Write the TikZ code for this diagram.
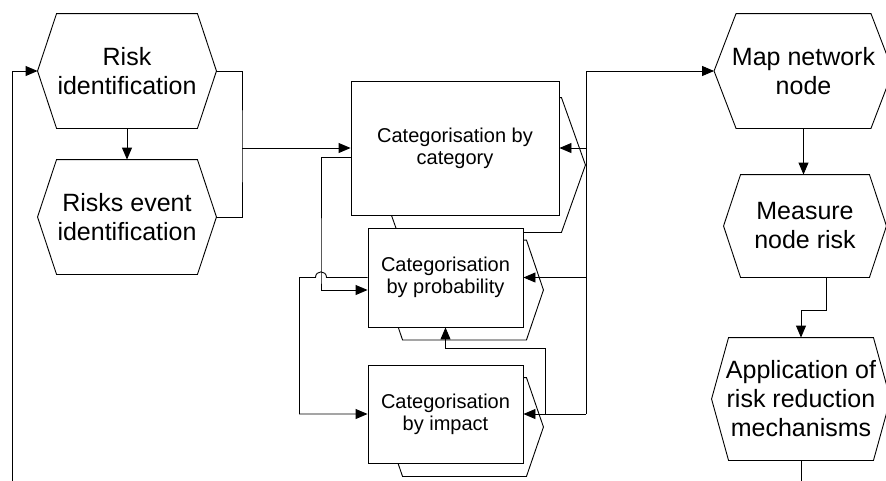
\documentclass[tikz,border=0pt]{standalone}
\usepackage{fontspec}
\setmainfont{Liberation Sans}
\usetikzlibrary{arrows.meta,backgrounds}

\tikzset{
  hexnode/.style={inner sep=0pt, align=center, font=\fontsize{25}{29}\selectfont},
  catbox/.style={draw, fill=white, inner sep=0pt, align=center, font=\fontsize{20}{22}\selectfont},
}

% hexagon round a node: name, slant offset
\newcommand{\hexframe}[2]{%
  \draw ([xshift=#2pt]#1.north west) -- ([xshift=-#2pt]#1.north east) -- (#1.east)
    -- ([xshift=-#2pt]#1.south east) -- ([xshift=#2pt]#1.south west) -- (#1.west) -- cycle;}

% card behind a box: name, left inset, right inset, point, drop
\newcommand{\backcard}[5]{%
  \begin{scope}[on background layer]
  \filldraw[fill=white, line width=0.9pt] ([xshift=#2pt, yshift=-#5pt]#1.north west) -- ([xshift=#3pt, yshift=-#5pt]#1.north east)
    -- ([xshift={#3pt+#4pt}, yshift=-#5pt]#1.east) -- ([xshift=#3pt, yshift=-#5pt]#1.south east)
    -- ([xshift=#2pt, yshift=-#5pt]#1.south west) -- ([xshift={#2pt-#4pt}, yshift=-#5pt]#1.west) -- cycle;
  \end{scope}}

\begin{document}
\begin{tikzpicture}[x=1pt, y=-1pt, line width=0.9pt, >={Triangle[length=12pt,width=10pt]}]

\useasboundingbox (0,0) rectangle (886,480);

% --- Esagoni a sinistra ---
\node[hexnode, minimum width=178pt, minimum height=114pt] (riskid) at (127,71) {Risk\\identification};
\node[hexnode, minimum width=178pt, minimum height=114pt] (riskevt) at (127,217) {Risks event\\identification};
\hexframe{riskid}{19}
\hexframe{riskevt}{19}

% --- Riquadri di categorizzazione ---
\node[catbox, minimum width=208pt, minimum height=134pt] (cat) at (455,148) {Categorisation by\\category};
\node[catbox, minimum width=155pt, minimum height=99pt] (prob) at (445.5,277.5) {Categorisation\\by probability};
\node[catbox, minimum width=155pt, minimum height=98pt] (impact) at (445.5,414) {Categorisation\\by impact};
\backcard{cat}{47}{2}{24}{17}
\backcard{prob}{35}{3}{17}{12.5}
\backcard{impact}{35}{3}{17}{13}

% --- Esagoni a destra ---
\node[hexnode, minimum width=178pt, minimum height=114pt] (map) at (803.5,71) {Map network\\node};
\node[hexnode, minimum width=162pt, minimum height=102pt] (measure) at (805,226) {Measure\\node risk};
\node[hexnode, minimum width=178pt, minimum height=122pt] (apply) at (801,399) {Application of\\risk reduction\\mechanisms};
\hexframe{map}{22}
\hexframe{measure}{17}
\hexframe{apply}{17}

% --- Punti di appoggio ---
\coordinate (loopin) at (12,482);
\coordinate (join) at (242,148);
\coordinate (hop) at (321,277.5);
\coordinate (busbot) at (586,414);
\coordinate (fork) at (545,414);
\coordinate (exitR) at (801,482);

% --- Collegamenti a sinistra ---
\draw[->] (loopin) |- (riskid.west);
\draw[->] (riskid.south) -- (riskevt.north);
\draw (riskid.east) -| (join) |- (riskevt.east);
\draw[->] (join) -- (cat.west);

% --- Collegamenti tra i riquadri ---
\draw[->] ([yshift=-9pt]cat.west) -| (hop) |- ([yshift=-12.5pt]prob.west);
\draw[->] (prob.west) -- ([xshift=5.5pt]hop)
  .. controls ([xshift=5.5pt, yshift=7.5pt]hop) and ([xshift=-5.5pt, yshift=7.5pt]hop) .. ([xshift=-5.5pt]hop)
  -- ++(-16,0) |- (impact.west);
\draw[->] (fork) -- ++(0,-66) -| (prob.south);

% --- Linea verticale a destra ---
\draw[->] (busbot) |- (map.west);
\draw[->] (busbot) -- (impact.east);
\draw[->] (busbot |- prob.east) -- (prob.east);
\draw[->] (busbot |- cat.east) -- (cat.east);

% --- Collegamenti a destra ---
\draw[->] (map.south) -- (map.south |- measure.north);
\draw[->] ([xshift=21pt]measure.south) -- ++(0,33) -| (apply.north);
\draw (apply.south) -- (exitR);

\end{tikzpicture}
\end{document}
